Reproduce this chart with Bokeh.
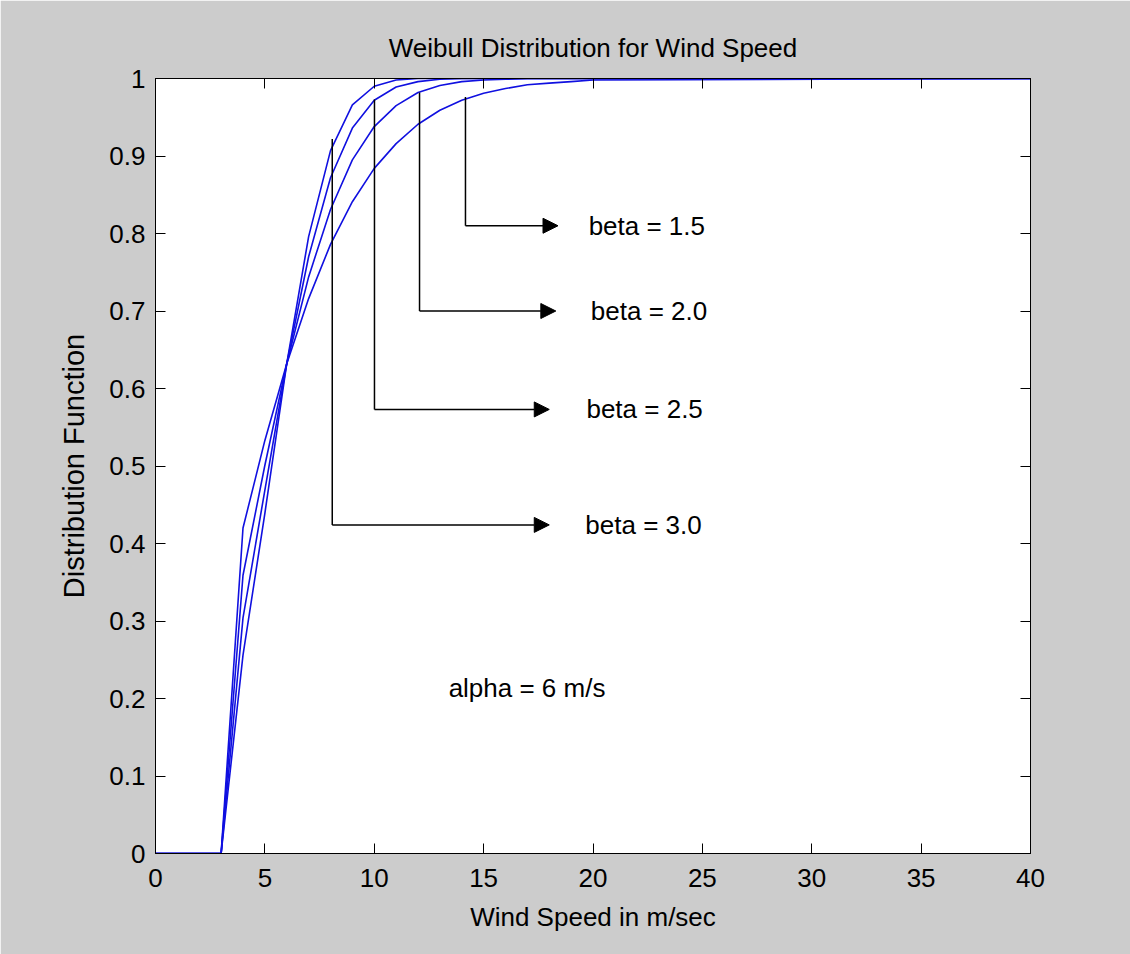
from bokeh.plotting import figure
from bokeh.models import (ColumnDataSource, FixedTicker, LinearAxis, Arrow, NormalHead,
                          CustomJSTickFormatter, Range1d)
from bokeh.core.properties import value
from bokeh.embed import file_html
from bokeh.resources import INLINE

# ---- data ----
wind_speed = [0, 1, 2, 3, 4, 5, 6, 7, 8, 9, 10, 11, 12, 13, 14, 15, 16, 17, 18, 19, 20, 40]
cdf_beta_15 = [0, 0, 0, 0, 0.420, 0.533, 0.632, 0.716, 0.786, 0.841, 0.884, 0.916, 0.941,
               0.959, 0.972, 0.981, 0.987, 0.992, 0.994, 0.996, 0.998, 1.0]
cdf_beta_20 = [0, 0, 0, 0, 0.359, 0.501, 0.632, 0.744, 0.831, 0.895, 0.938, 0.965, 0.982,
               0.991, 0.996, 0.998, 0.999, 1.0, 1.0, 1.0, 1.0, 1.0]
cdf_beta_25 = [0, 0, 0, 0, 0.304, 0.469, 0.632, 0.770, 0.872, 0.936, 0.972, 0.989, 0.996,
               0.999, 1.0, 1.0, 1.0, 1.0, 1.0, 1.0, 1.0, 1.0]
cdf_beta_30 = [0, 0, 0, 0, 0.256, 0.439, 0.632, 0.796, 0.907, 0.966, 0.990, 0.998, 1.0,
               1.0, 1.0, 1.0, 1.0, 1.0, 1.0, 1.0, 1.0, 1.0]

x_ticks = [0, 5, 10, 15, 20, 25, 30, 35, 40]
y_ticks = [0, 0.1, 0.2, 0.3, 0.4, 0.5, 0.6, 0.7, 0.8, 0.9, 1.0]

# annotation callouts
beta_labels = ["beta = 1.5", "beta = 2.0", "beta = 2.5", "beta = 3.0"]
callout_x = [14.17, 12.07, 10.01, 8.08]      # vertical leader position
callout_top = [0.976, 0.982, 0.973, 0.922]   # where leader meets curve
callout_y = [0.81, 0.70, 0.573, 0.424]       # horizontal arrow level
arrow_end_x = [18.4, 18.3, 18.0, 18.0]
label_x = [19.8, 19.9, 19.7, 19.65]
alpha_text = "alpha = 6 m/s"
alpha_x = 13.4
alpha_y = 0.213

FONT = "Liberation Sans"
FS = "26px"
BLUE = "#1010e0"

p = figure(width=1130, height=954, output_backend="svg", toolbar_location=None,
           x_range=Range1d(0, 40), y_range=Range1d(0, 1),
           title="Weibull Distribution for Wind Speed",
           min_border_left=155, min_border_right=100, min_border_top=78, min_border_bottom=101,
           background_fill_color="white", border_fill_color="#cccccc")
p.grid.visible = False
p.outline_line_color = "black"
p.outline_line_width = 1

p.title.text_font = FONT
p.title.text_font_size = FS
p.title.text_font_style = "normal"
p.title.text_color = "black"
p.title.align = "center"
p.title.standoff = 31

fmt = CustomJSTickFormatter(code="return String(Math.round(tick*10)/10);")
blank = CustomJSTickFormatter(code="return '';")

def style_axis(ax, ticks, show_labels=True):
    ax.ticker = FixedTicker(ticks=ticks)
    ax.major_tick_in = 10
    ax.major_tick_out = 0
    ax.minor_tick_in = 0
    ax.minor_tick_out = 0
    ax.axis_line_color = "black"
    ax.major_tick_line_color = "black"
    ax.major_label_text_font = FONT
    ax.major_label_text_color = "black"
    ax.major_label_text_font_size = FS
    ax.axis_label_text_font = FONT
    ax.axis_label_text_font_size = FS
    ax.axis_label_text_font_style = "normal"
    ax.axis_label_text_color = "black"
    if show_labels:
        ax.formatter = fmt
    else:
        ax.formatter = blank
        ax.major_label_standoff = 0

style_axis(p.xaxis[0], x_ticks)
style_axis(p.yaxis[0], y_ticks)
p.xaxis[0].axis_label = "Wind Speed in m/sec"
p.yaxis[0].axis_label = "Distribution Function"
p.yaxis[0].axis_label_text_font_size = "29px"
p.xaxis[0].major_label_standoff = 15
p.yaxis[0].major_label_standoff = 10
p.xaxis[0].axis_label_standoff = 12
p.yaxis[0].axis_label_standoff = 16

top_ax = LinearAxis()
style_axis(top_ax, x_ticks, show_labels=False)
p.add_layout(top_ax, "above")
right_ax = LinearAxis()
style_axis(right_ax, y_ticks, show_labels=False)
p.add_layout(right_ax, "right")

src = ColumnDataSource(dict(x=wind_speed, b15=cdf_beta_15, b20=cdf_beta_20,
                            b25=cdf_beta_25, b30=cdf_beta_30))
for col in ["b15", "b20", "b25", "b30"]:
    p.line("x", col, source=src, line_color=BLUE, line_width=1.6)

# callout leaders
lead = ColumnDataSource(dict(x=callout_x, top=callout_top, y=callout_y, xe=arrow_end_x))
p.segment(x0="x", y0="top", x1="x", y1="y", source=lead, line_color="black", line_width=1.5)
p.add_layout(Arrow(end=NormalHead(size=15, fill_color="black", line_color="black"),
                   x_start="x", y_start="y", x_end="xe", y_end="y", source=lead,
                   line_color="black", line_width=1.5))

lab = ColumnDataSource(dict(x=label_x, y=callout_y, t=beta_labels))
p.text(x="x", y="y", text="t", source=lab, text_font=value(FONT), text_font_size=FS,
       text_baseline="middle", text_align="left", text_color="black")
p.text(x=[alpha_x], y=[alpha_y], text=[alpha_text], text_font=value(FONT), text_font_size=FS,
       text_baseline="middle", text_align="left", text_color="black")

open("out.html", "w").write(file_html(p, INLINE))
